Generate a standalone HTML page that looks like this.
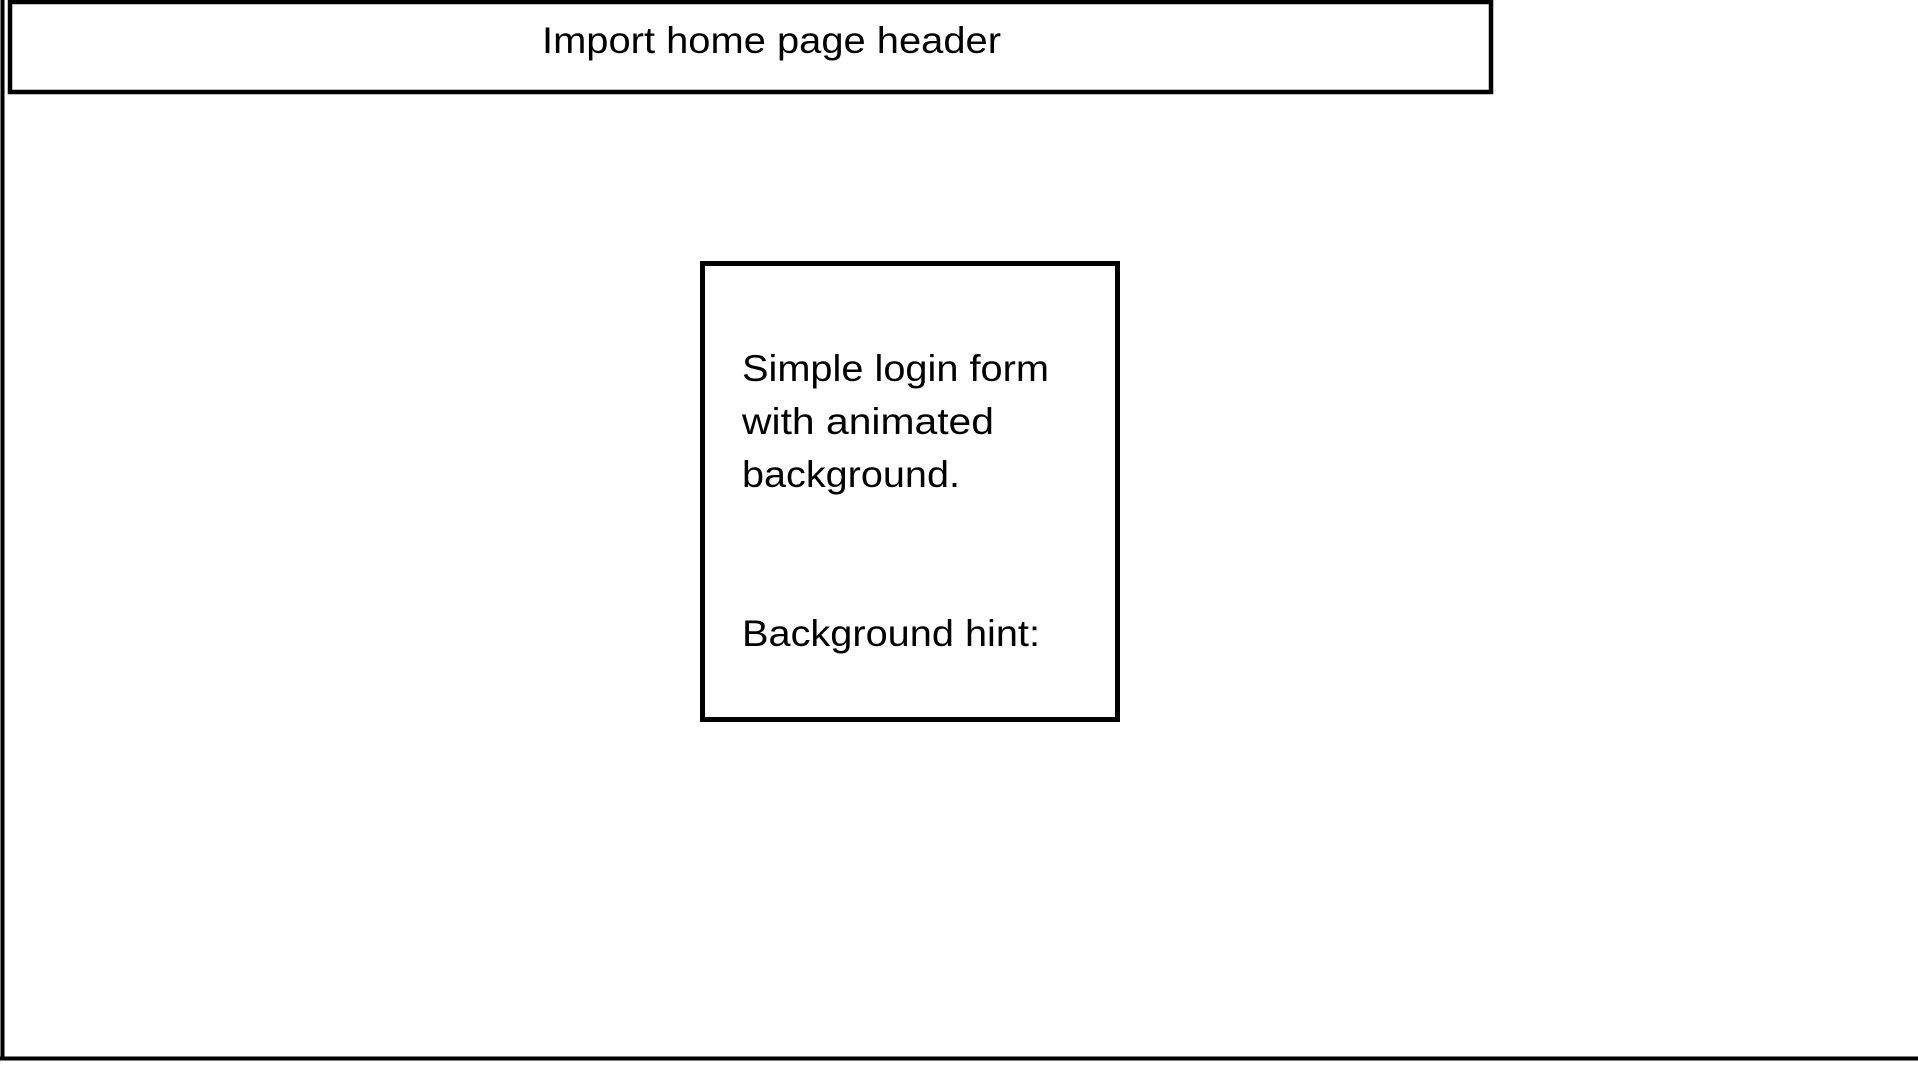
<!DOCTYPE html>
<html><head><meta charset="utf-8"><style>
html,body{margin:0;padding:0;background:#fff;width:1918px;height:1074px;overflow:hidden}
svg{display:block}
text{font-family:"Liberation Sans",sans-serif;font-size:37px;fill:#000}
</style></head><body>
<svg width="1918" height="1074" viewBox="0 0 1918 1074">
<line x1="2.5" y1="0" x2="2.5" y2="1060" stroke="#000" stroke-width="4"/>
<line x1="0" y1="1058.5" x2="1918" y2="1058.5" stroke="#000" stroke-width="4"/>
<rect x="10" y="2" width="1481" height="90" fill="#fff" stroke="#000" stroke-width="4.5"/>
<text x="542" y="53" textLength="459" lengthAdjust="spacingAndGlyphs">Import home page header</text>
<rect x="702.5" y="263.5" width="415" height="456" fill="#fff" stroke="#000" stroke-width="5"/>
<text x="742" y="381" textLength="307" lengthAdjust="spacingAndGlyphs">Simple login form</text>
<text x="742" y="434" textLength="252" lengthAdjust="spacingAndGlyphs">with animated</text>
<text x="742" y="487" textLength="218" lengthAdjust="spacingAndGlyphs">background.</text>
<text x="742" y="646" textLength="298" lengthAdjust="spacingAndGlyphs">Background hint:</text>
</svg>
</body></html>
